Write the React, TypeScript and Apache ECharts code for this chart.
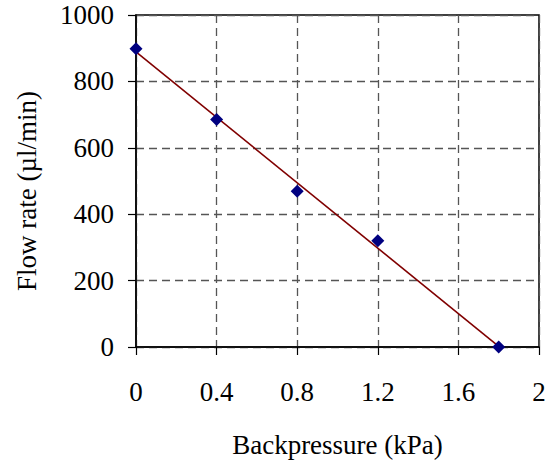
import React, { useEffect, useRef } from "react";
import * as echarts from "echarts";

const backpressure = [0, 0.4, 0.8, 1.2, 1.8];
const flowRate = [898, 685, 469, 320, 0];
const trendX = [0, 1.8];
const trendY = [889, 2];

const FONT = "Liberation Serif";

export default function App() {
  const ref = useRef<HTMLDivElement>(null);
  useEffect(() => {
    if (!ref.current) return;
    const chart = echarts.init(ref.current, null, { renderer: "svg" });
    chart.setOption({
      animation: false,
      backgroundColor: "#ffffff",
      textStyle: { fontFamily: FONT },
      grid: {
        left: 136,
        top: 15,
        right: 15,
        bottom: 114,
        show: true,
        borderColor: "#000",
        borderWidth: 1.5,
        backgroundColor: "transparent",
      },
      xAxis: {
        type: "value",
        min: 0,
        max: 2,
        interval: 0.4,
        name: "Backpressure (kPa)",
        nameLocation: "middle",
        nameGap: 84,
        nameTextStyle: { fontFamily: FONT, fontSize: 27, color: "#000" },
        axisLine: { show: true, lineStyle: { color: "#000", width: 1.5 } },
        axisTick: { show: true, inside: false, length: 8, lineStyle: { color: "#000", width: 1.2 } },
        axisLabel: { fontFamily: FONT, fontSize: 27, color: "#000", margin: 31, formatter: (v: number) => String(v) },
        splitLine: { show: true, lineStyle: { color: "#555", width: 1.3, type: [8, 5] } },
      },
      yAxis: {
        type: "value",
        min: 0,
        max: 1000,
        interval: 200,
        name: "Flow rate (µl/min)",
        nameLocation: "middle",
        nameGap: 96,
        nameTextStyle: { fontFamily: FONT, fontSize: 27, color: "#000", padding: [0, 20, 0, 0] },
        axisLine: { show: true, lineStyle: { color: "#000", width: 1.5 } },
        axisTick: { show: true, inside: false, length: 8, lineStyle: { color: "#000", width: 1.2 } },
        axisLabel: { fontFamily: FONT, fontSize: 27, color: "#000", margin: 22, formatter: (v: number) => String(v) },
        splitLine: { show: true, lineStyle: { color: "#555", width: 1.3, type: [8, 5] } },
      },
      series: [
        {
          type: "line",
          data: trendX.map((x, i) => [x, trendY[i]]),
          showSymbol: false,
          symbol: "none",
          lineStyle: { color: "#800000", width: 1.6 },
          z: 2,
        },
        {
          type: "scatter",
          data: backpressure.map((x, i) => [x, flowRate[i]]),
          symbol: "diamond",
          symbolSize: 13,
          itemStyle: { color: "#000080", opacity: 1 },
          z: 3,
        },
      ],
    });
    return () => chart.dispose();
  }, []);
  return (
    <div
      ref={ref}
      style={{ position: "fixed", left: 0, top: 0, width: 554, height: 463 }}
    />
  );
}
